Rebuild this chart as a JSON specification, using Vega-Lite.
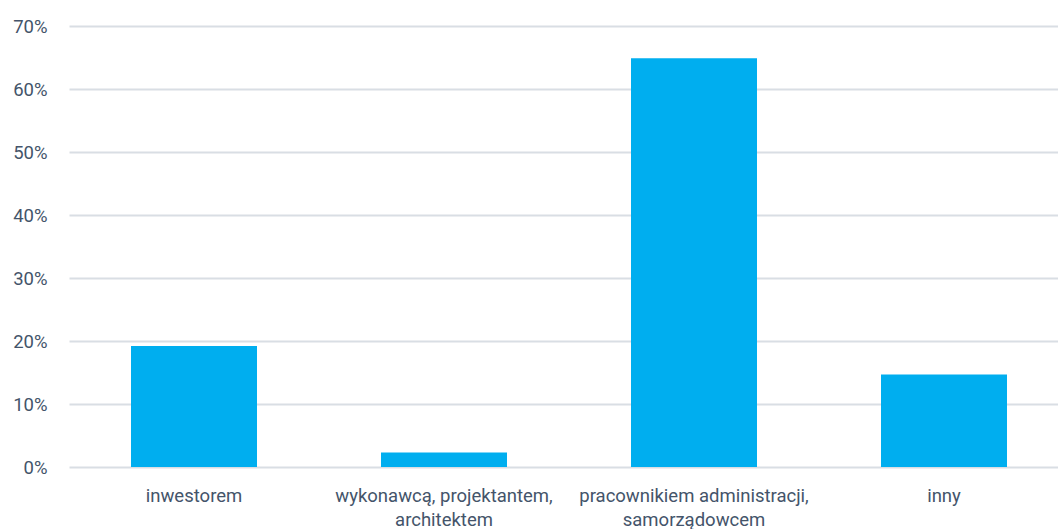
{
  "$schema": "https://vega.github.io/schema/vega-lite/v6.json",
  "width": 989,
  "height": 441,
  "autosize": "none",
  "padding": {"left": 69, "top": 26, "right": 0, "bottom": 62},
  "background": "white",
  "data": {
    "values": [
      {"kategoria": "inwestorem", "udzial": 0.192},
      {"kategoria": "wykonawcą, projektantem,|architektem", "udzial": 0.023},
      {"kategoria": "pracownikiem administracji,|samorządowcem", "udzial": 0.649},
      {"kategoria": "inny", "udzial": 0.147}
    ]
  },
  "mark": {"type": "bar", "color": "#00aeef"},
  "encoding": {
    "x": {
      "field": "kategoria",
      "type": "nominal",
      "sort": null,
      "scale": {"paddingInner": 0.496, "paddingOuter": 0.226, "align": 0.5487},
      "axis": {
        "title": null,
        "labelAngle": 0,
        "labelExpr": "split(datum.value, '|')",
        "labelLimit": 0,
        "labelLineHeight": 24,
        "labelPadding": 19,
        "ticks": false,
        "domain": false,
        "labelFont": "Roboto",
        "labelFontSize": 18.5,
        "labelColor": "#44546a"
      }
    },
    "y": {
      "field": "udzial",
      "type": "quantitative",
      "scale": {"domain": [0, 0.7], "nice": false},
      "axis": {
        "title": null,
        "format": ".0%",
        "values": [0, 0.1, 0.2, 0.3, 0.4, 0.5, 0.6, 0.7],
        "grid": true,
        "gridColor": "#d9dee4",
        "gridWidth": 2,
        "ticks": false,
        "domain": false,
        "labelPadding": 22,
        "labelFont": "Roboto",
        "labelFontSize": 18.5,
        "labelColor": "#44546a"
      }
    }
  },
  "config": {"view": {"stroke": null}}
}
